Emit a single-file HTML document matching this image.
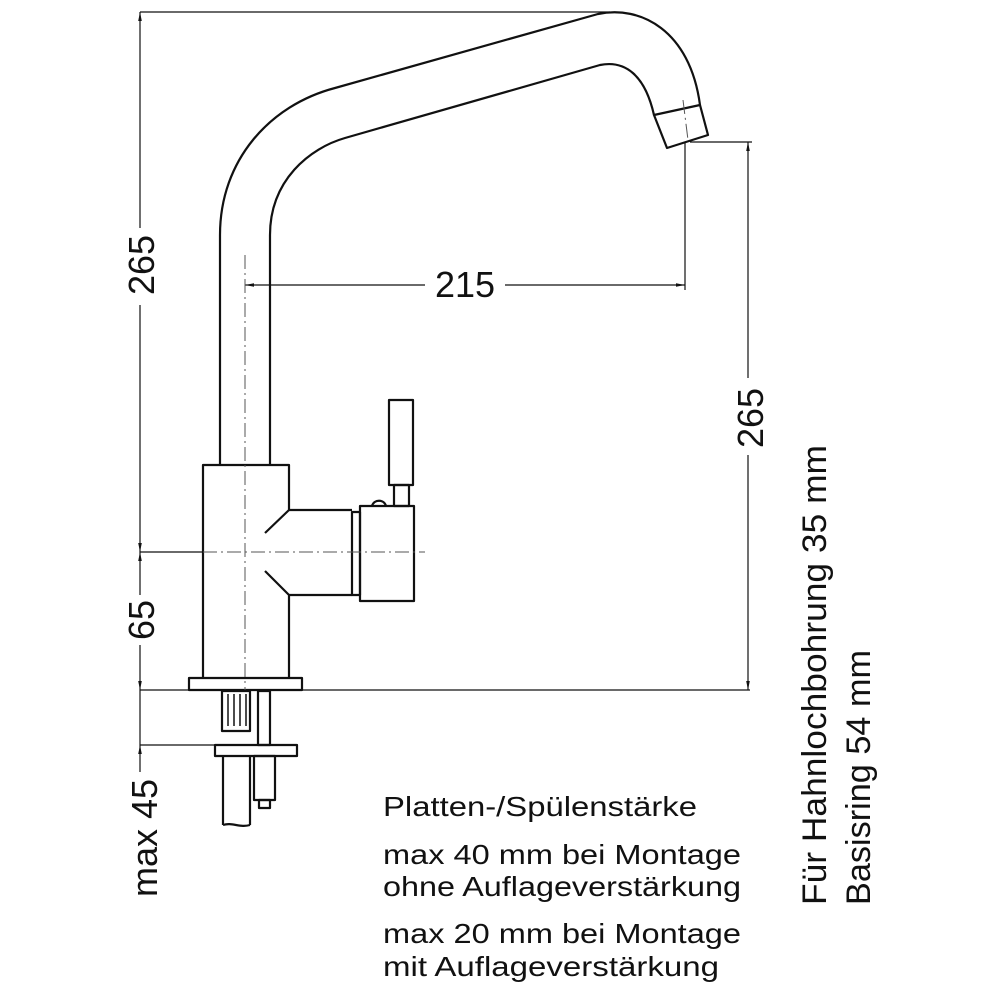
<!DOCTYPE html>
<html><head><meta charset="utf-8"><style>
html,body{margin:0;padding:0;background:#fff;}
svg{display:block;}
text{font-family:"Liberation Sans",sans-serif;fill:#111;}
</style></head><body>
<svg width="1000" height="1000" viewBox="0 0 1000 1000" xmlns="http://www.w3.org/2000/svg">
<defs>
<marker id="a" viewBox="0 0 10 10" refX="10" refY="5" markerWidth="9" markerHeight="9" orient="auto-start-reverse" markerUnits="userSpaceOnUse"><path d="M0,3 L10,5 L0,7 z" fill="#111"/></marker>
</defs>
<g fill="none" stroke="#111" stroke-width="2.2" stroke-linejoin="round">
<path d="M220,465 L220,235 C220,160 270,105 335,88 L598,14 C640,5 690,30 700,105"/>
<path d="M270,465 L270,235 C270,180 310,148 345,138 L600,65 C625,60 645,75 654,115"/>
<path d="M654,115 L700,105 L708,135 L667,148 Z"/>
<path d="M203,678 L203,465 L289,465 L289,510 L265,533"/>
<path d="M265,571 L289,595 L289,678"/>
<path d="M289,510 L352,510 M289,595 L352,595"/>
<rect x="352" y="512" width="8" height="83"/>
<rect x="360" y="506" width="54" height="95"/>
<rect x="394" y="485" width="15" height="21"/>
<rect x="389" y="400" width="24" height="85"/>
<path d="M372,506 C374,499 384,499 386,506"/>
<rect x="189" y="678" width="113" height="12"/>
<rect x="222" y="691" width="28" height="40"/>
<path d="M228,694 L228,726 M234,694 L234,726 M240,694 L240,726 M246,694 L246,726" stroke-width="1.5"/>
<rect x="258" y="691" width="12" height="54"/>
<rect x="215" y="745" width="82" height="11"/>
<path d="M223,756 L223,825 M250,756 L250,825 M223,825 C232,822 240,828 250,825"/>
<rect x="254" y="756" width="21" height="44"/>
<rect x="259" y="800" width="11" height="8"/>
</g>
<g fill="none" stroke="#111" stroke-width="1.2">
<path d="M140,12 L610,12"/>
<path d="M140,552 L203,552"/>
<path d="M140,690 L750,690"/>
<path d="M140,745 L215,745"/>
<path d="M690,142 L752,142"/>
<path d="M685,142 L685,290"/>
<path d="M140,12 L140,228" marker-start="url(#a)"/>
<path d="M140,305 L140,552" marker-end="url(#a)"/>
<path d="M140,552 L140,595" marker-start="url(#a)"/>
<path d="M140,645 L140,690" marker-end="url(#a)"/>
<path d="M140,690 L140,745"/>
<path d="M140,745 L140,772" marker-start="url(#a)"/>
<path d="M748,142 L748,378" marker-start="url(#a)"/>
<path d="M748,455 L748,690" marker-end="url(#a)"/>
<path d="M245,285 L425,285" marker-start="url(#a)"/>
<path d="M505,285 L685,285" marker-end="url(#a)"/>
</g>
<g fill="none" stroke="#555" stroke-width="1" stroke-dasharray="14,4,2,4">
<path d="M245,255 L245,690"/>
<path d="M203,552 L425,552"/>
<path d="M683,100 L688,140"/>
</g>
<g font-size="36">
<text transform="translate(154,265) rotate(-90)" text-anchor="middle">265</text>
<text transform="translate(154,620) rotate(-90)" text-anchor="middle">65</text>
<text transform="translate(157,838) rotate(-90)" text-anchor="middle">max 45</text>
<text transform="translate(763,418) rotate(-90)" text-anchor="middle">265</text>
<text x="465" y="297" text-anchor="middle">215</text>
</g>
<g font-size="34">
<text transform="translate(826,905) rotate(-90)" textLength="460" lengthAdjust="spacingAndGlyphs">Für Hahnlochbohrung 35 mm</text>
<text transform="translate(870,905) rotate(-90)" textLength="255" lengthAdjust="spacingAndGlyphs">Basisring 54 mm</text>
</g>
<g font-size="28">
<text x="383" y="816" textLength="314" lengthAdjust="spacingAndGlyphs">Platten-/Spülenstärke</text>
<text x="383" y="864" textLength="358" lengthAdjust="spacingAndGlyphs">max 40 mm bei Montage</text>
<text x="383" y="896" textLength="358" lengthAdjust="spacingAndGlyphs">ohne Auflageverstärkung</text>
<text x="383" y="943" textLength="358" lengthAdjust="spacingAndGlyphs">max 20 mm bei Montage</text>
<text x="383" y="976" textLength="336" lengthAdjust="spacingAndGlyphs">mit Auflageverstärkung</text>
</g>
</svg>
</body></html>
